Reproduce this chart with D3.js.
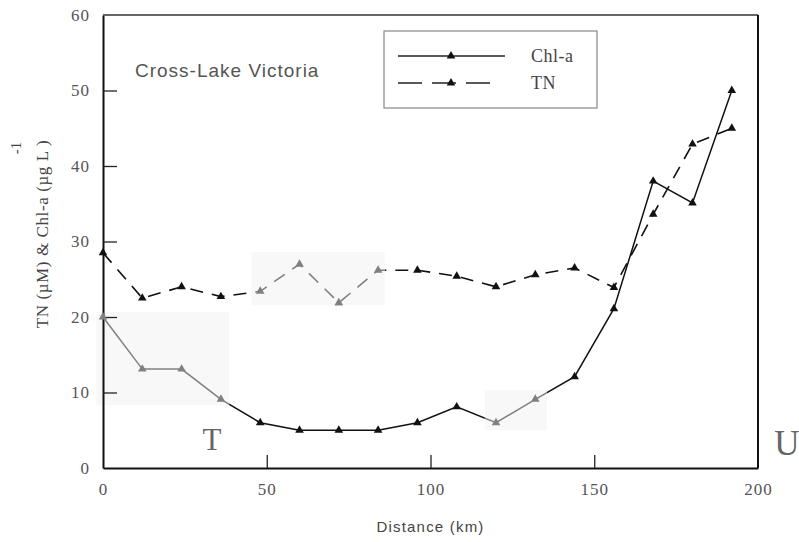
<!DOCTYPE html>
<html>
<head>
<meta charset="utf-8">
<script src="https://cdn.jsdelivr.net/npm/d3@7"></script>
<style>
  body { margin: 0; background: #fff; }
  svg { display: block; }
</style>
</head>
<body>
<div id="chart"></div>
<script>
var w = 799;
var h = 542;

// data (distance in km, every 12 km)
var distance = [0, 12, 24, 36, 48, 60, 72, 84, 96, 108, 120, 132, 144, 156, 168, 180, 192];
var chla = [20, 13.1, 13.1, 9.1, 6, 5, 5, 5, 6, 8.1, 6, 9.1, 12.1, 21.1, 38, 35.1, 50];
var tn = [28.5, 22.5, 24, 22.7, 23.4, 27, 21.9, 26.2, 26.2, 25.4, 24, 25.6, 26.5, 23.9, 33.6, 42.9, 45];

var seriesNames = ["Chl-a", "TN"];
var xTicks = [0, 50, 100, 150, 200];
var yTicks = [0, 10, 20, 30, 40, 50, 60];

// faint scan patches in data units [x0, x1, y0, y1]
var patches = [[-2, 38.5, 8.3, 20.7], [45.4, 86, 21.6, 28.6], [116.6, 135.5, 5, 10.3]];

var x = d3.scaleLinear().domain([0, 200]).range([103, 758]);
var y = d3.scaleLinear().domain([0, 60]).range([468, 15]);

var svg = d3.select("#chart")
    .append("svg")
    .attr("width", w)
    .attr("height", h);

function patchRect(sel) {
    sel.attr("x", function(d) { return x(d[0]); })
        .attr("y", function(d) { return y(d[3]); })
        .attr("width", function(d) { return x(d[1]) - x(d[0]); })
        .attr("height", function(d) { return y(d[2]) - y(d[3]); });
}

// patches
svg.append("g").selectAll("rect")
    .data(patches)
    .enter().append("rect")
    .call(patchRect)
    .attr("fill", "#f8f8f8");

var defs = svg.append("defs");
var clip = defs.append("clipPath").attr("id", "inPatch");
clip.selectAll("rect").data(patches).enter().append("rect").call(patchRect);
var mask = defs.append("mask").attr("id", "outPatch");
mask.append("rect").attr("width", w).attr("height", h).attr("fill", "white");
mask.selectAll(".p").data(patches).enter().append("rect")
    .call(patchRect)
    .attr("fill", "black");

// axes
var yAxis = d3.axisLeft(y).tickValues(yTicks).tickSizeInner(-14).tickSizeOuter(0).tickPadding(13);
var xAxis = d3.axisBottom(x).tickValues(xTicks).tickSizeInner(-13).tickSizeOuter(0).tickPadding(15);

var gy = svg.append("g").attr("transform", "translate(" + x(0) + ",0)").call(yAxis);
var gx = svg.append("g").attr("transform", "translate(0," + y(0) + ")").call(xAxis);

[gx, gy].forEach(function(g) {
    g.select(".domain").attr("stroke", "#111").attr("stroke-width", 2);
    g.selectAll(".tick line").attr("stroke", "#222").attr("stroke-width", 1.3);
    g.selectAll(".tick text")
        .attr("font-family", "'Liberation Serif', 'DejaVu Serif', serif")
        .attr("font-size", 17)
        .attr("fill", "#555")
        .attr("letter-spacing", 1);
});
gy.selectAll(".tick").filter(function(d) { return d === 0 || d === 60; }).select("line").remove();
gx.selectAll(".tick").filter(function(d) { return d === 0 || d === 200; }).select("line").remove();

// frame top and right
svg.append("line")
    .attr("x1", x(0)).attr("x2", x(200)).attr("y1", y(60)).attr("y2", y(60))
    .attr("stroke", "#333").attr("stroke-width", 1.5);
svg.append("line")
    .attr("x1", x(200)).attr("x2", x(200)).attr("y1", y(60)).attr("y2", y(0))
    .attr("stroke", "#111").attr("stroke-width", 2);

// series
var line = d3.line()
    .x(function(d) { return x(d.x); })
    .y(function(d) { return y(d.y); });

var chlaPts = distance.map(function(d, i) { return {x: d, y: chla[i]}; });
var tnPts = distance.map(function(d, i) { return {x: d, y: tn[i]}; });

var tri = d3.symbol().type(d3.symbolTriangle).size(32);

function drawSeries(g, color) {
    g.append("path").datum(chlaPts)
        .attr("d", line)
        .attr("fill", "none")
        .attr("stroke", color)
        .attr("stroke-width", 1.5);
    g.append("path").datum(tnPts)
        .attr("d", line)
        .attr("fill", "none")
        .attr("stroke", color)
        .attr("stroke-width", 1.6)
        .attr("stroke-dasharray", "13,9");
    g.selectAll(".mc").data(chlaPts.concat(tnPts)).enter().append("path")
        .attr("d", tri)
        .attr("transform", function(d) { return "translate(" + x(d.x) + "," + y(d.y) + ")"; })
        .attr("fill", color);
}

drawSeries(svg.append("g").attr("mask", "url(#outPatch)"), "#111");
drawSeries(svg.append("g").attr("clip-path", "url(#inPatch)"), "#808080");

// legend
var legend = svg.append("g");
legend.append("rect")
    .attr("x", 384).attr("y", 31).attr("width", 213).attr("height", 77)
    .attr("fill", "none").attr("stroke", "#888").attr("stroke-width", 1.2);

var legendRows = [
    {name: seriesNames[0], ly: 56, x2: 505, dash: null},
    {name: seriesNames[1], ly: 83, x2: 493, dash: "24,10"}
];
legendRows.forEach(function(r) {
    legend.append("line")
        .attr("x1", 398).attr("x2", r.x2).attr("y1", r.ly).attr("y2", r.ly)
        .attr("stroke", "#222").attr("stroke-width", 1.5)
        .attr("stroke-dasharray", r.dash);
    legend.append("path")
        .attr("d", tri)
        .attr("transform", "translate(451," + r.ly + ")")
        .attr("fill", "#111");
    legend.append("text")
        .attr("x", 531).attr("y", r.ly + 6)
        .attr("font-family", "'Liberation Serif', serif")
        .attr("font-size", 18)
        .attr("fill", "#444")
        .attr("letter-spacing", 0.5)
        .text(r.name);
});

// title
svg.append("text")
    .attr("x", 135).attr("y", 77)
    .attr("font-family", "'Liberation Sans', 'DejaVu Sans', sans-serif")
    .attr("font-size", 19)
    .attr("fill", "#555")
    .attr("letter-spacing", 1)
    .text("Cross-Lake Victoria");

// axis labels
svg.append("text")
    .attr("x", (x(0) + x(200)) / 2).attr("y", 532)
    .attr("text-anchor", "middle")
    .attr("font-family", "'Liberation Sans', 'DejaVu Sans', sans-serif")
    .attr("font-size", 15)
    .attr("fill", "#444")
    .attr("letter-spacing", 1.2)
    .text("Distance (km)");

svg.append("text")
    .attr("transform", "translate(48,234) rotate(-90)")
    .attr("text-anchor", "middle")
    .attr("font-family", "'Liberation Serif', serif")
    .attr("font-size", 17)
    .attr("fill", "#444")
    .attr("letter-spacing", 0.6)
    .text("TN (\u00b5M) & Chl-a (\u00b5g L    )");

svg.append("text")
    .attr("transform", "translate(21,148) rotate(-90)")
    .attr("text-anchor", "middle")
    .attr("font-family", "'Liberation Serif', serif")
    .attr("font-size", 15)
    .attr("fill", "#444")
    .text("-1");

// panel letters
svg.append("text")
    .attr("x", 212).attr("y", 450)
    .attr("text-anchor", "middle")
    .attr("font-family", "'Liberation Serif', serif")
    .attr("font-size", 31)
    .attr("fill", "#666")
    .text("T");
svg.append("text")
    .attr("x", 787).attr("y", 455)
    .attr("text-anchor", "middle")
    .attr("font-family", "'Liberation Serif', serif")
    .attr("font-size", 35)
    .attr("fill", "#666")
    .text("U");
</script>
</body>
</html>
